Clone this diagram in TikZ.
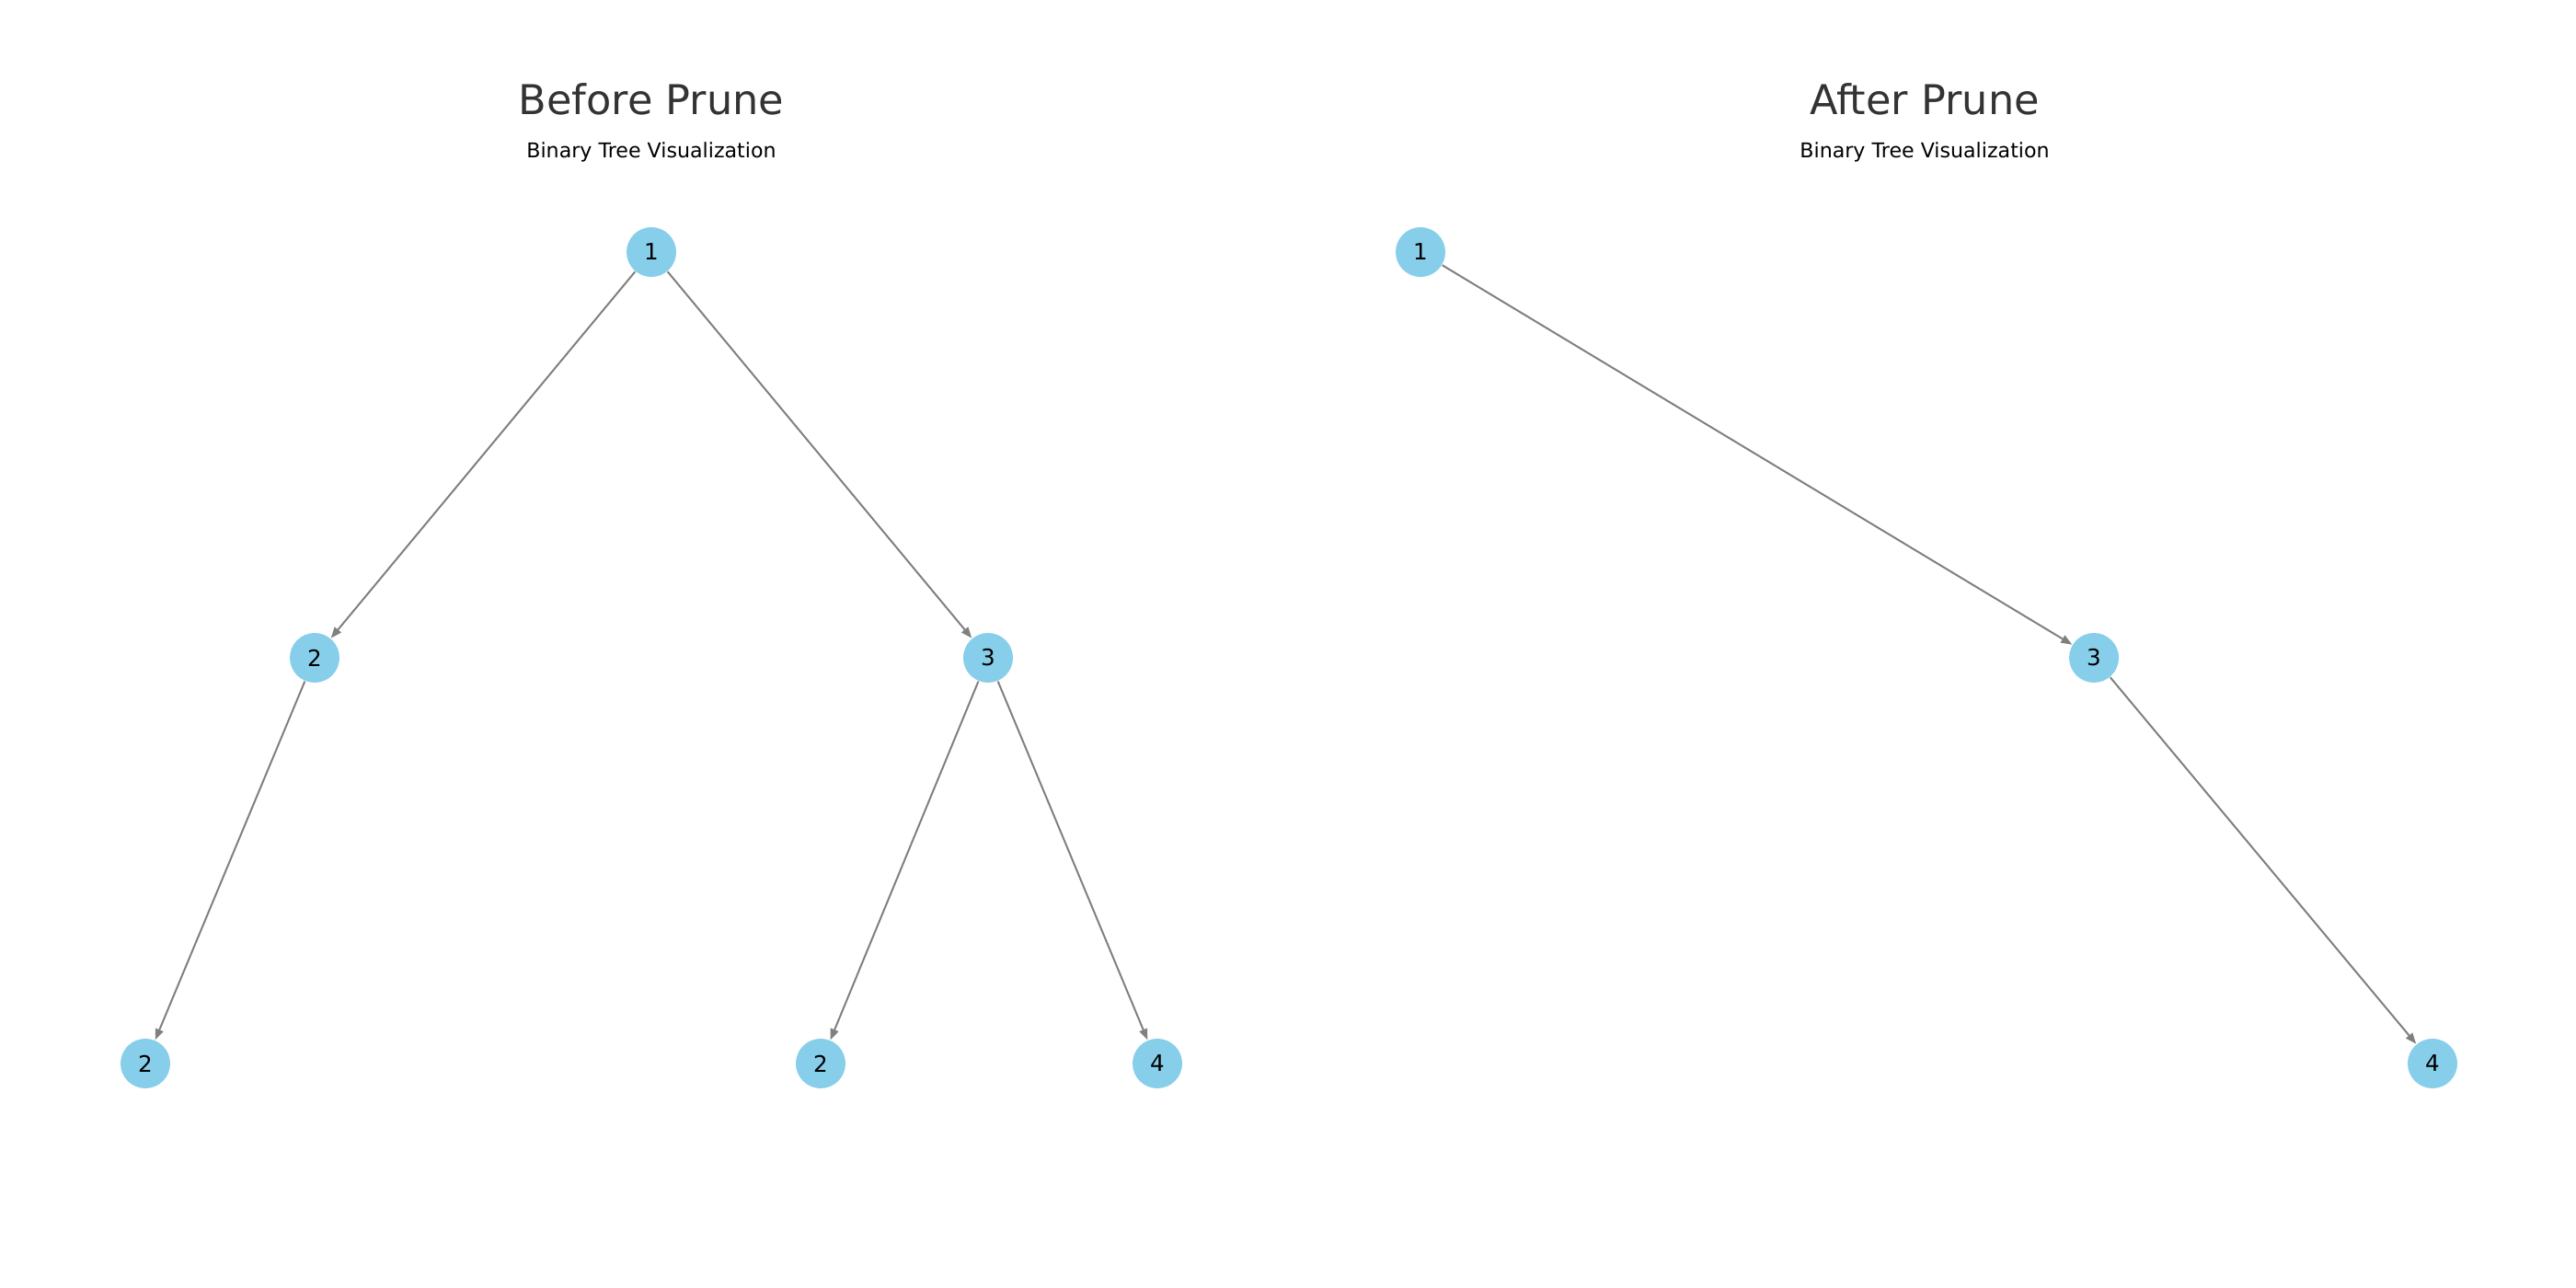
\documentclass[tikz,border=0pt]{standalone}
\usepackage{fontspec}
\setmainfont{DejaVu Sans}
\usetikzlibrary{arrows.meta,positioning}
\definecolor{skyblue}{HTML}{87CEEB}
\definecolor{titlegray}{HTML}{333333}

\begin{document}
\begin{tikzpicture}[x=1cm,y=1cm,
    tnode/.style={circle,fill=skyblue,minimum size=5.4mm,inner sep=0pt,font=\fontsize{7}{8}\selectfont},
    tedge/.style={-{Triangle[length=1.2mm,width=0.9mm]},draw=gray,line width=0.2mm},
    ttitle/.style={anchor=base,text=titlegray,font=\fontsize{12.7}{15}\selectfont},
    tsub/.style={anchor=base,font=\fontsize{6.3}{8}\selectfont}]
  \useasboundingbox (0,0) rectangle (28,14);
  \pgfmathsetmacro{\ya}{11.26}
  \pgfmathsetmacro{\yb}{6.85}
  \pgfmathsetmacro{\yc}{2.44}

  % before prune
  \node[ttitle] (tbefore) at (7.08,12.75) {Before Prune};
  \node[tsub] (sbefore) at (7.08,12.28) {Binary Tree Visualization};
  \node[tnode] (b1) at (7.08,\ya) {1};
  \node[tnode] (b2) at (3.42,\yb) {2};
  \node[tnode] (b3) at (10.74,\yb) {3};
  \node[tnode] (b4) at (1.58,\yc) {2};
  \node[tnode] (b5) at (8.92,\yc) {2};
  \node[tnode] (b6) at (12.58,\yc) {4};
  \draw[tedge] (b1) -- (b2);
  \draw[tedge] (b1) -- (b3);
  \draw[tedge] (b2) -- (b4);
  \draw[tedge] (b3) -- (b5);
  \draw[tedge] (b3) -- (b6);

  % after prune
  \node[ttitle] (tafter) at (20.92,12.75) {After Prune};
  \node[tsub] (safter) at (20.92,12.28) {Binary Tree Visualization};
  \node[tnode] (a1) at (15.44,\ya) {1};
  \node[tnode] (a3) at (22.76,\yb) {3};
  \node[tnode] (a4) at (26.44,\yc) {4};
  \draw[tedge] (a1) -- (a3);
  \draw[tedge] (a3) -- (a4);
\end{tikzpicture}
\end{document}
